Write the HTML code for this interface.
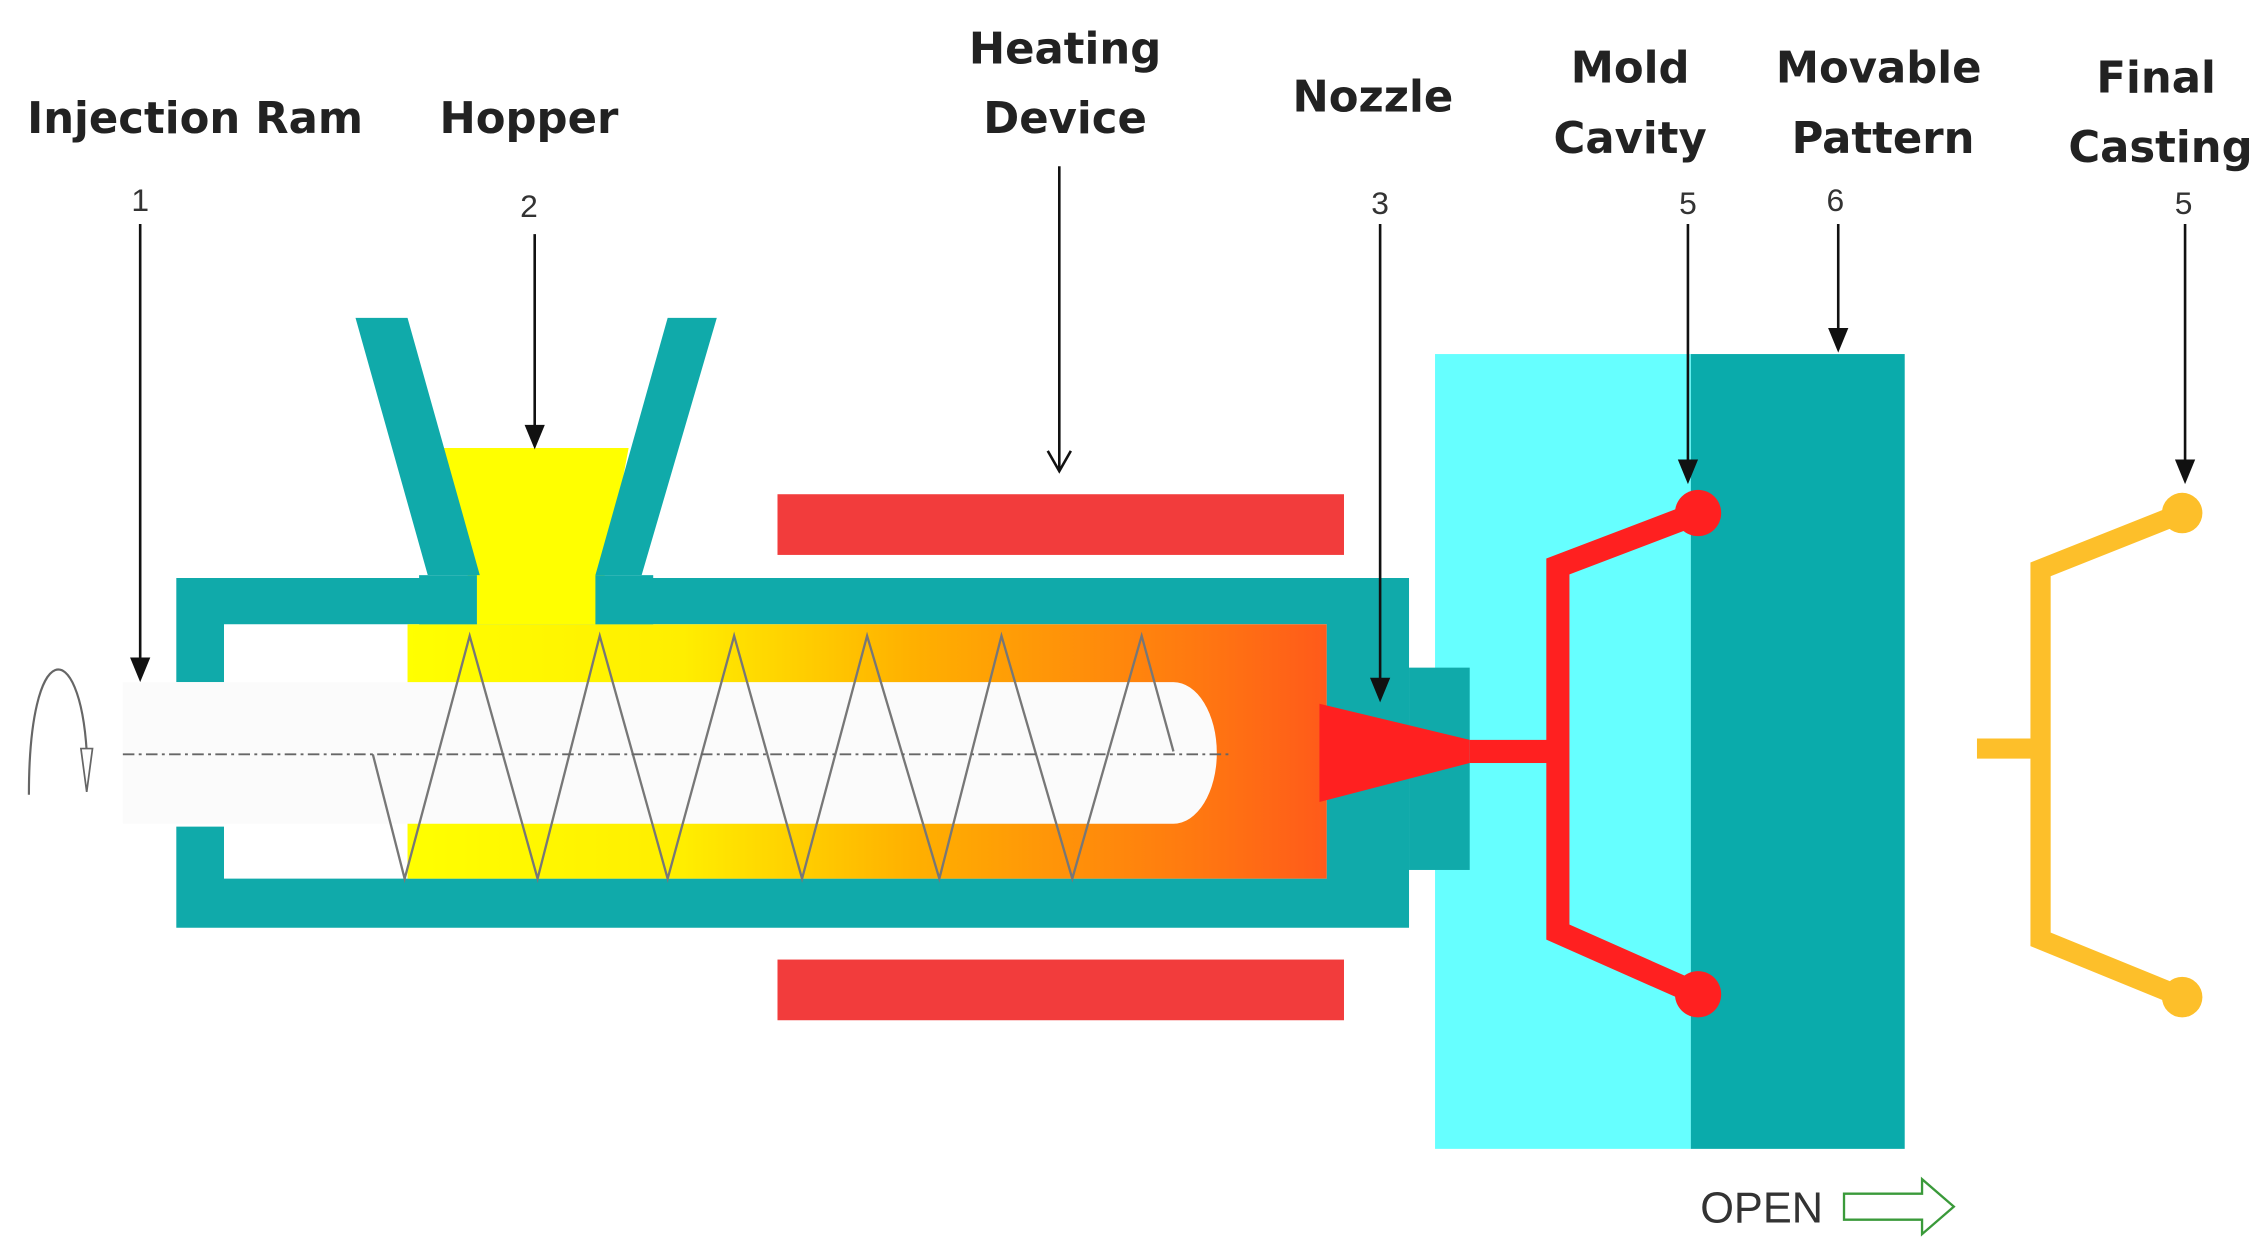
<!DOCTYPE html>
<html><head><meta charset="utf-8"><style>
html,body{margin:0;padding:0;background:#fff;}
svg{display:block;}
.lb{font-family:"DejaVu Sans","Liberation Sans",sans-serif;font-weight:bold;font-size:30px;fill:#222;text-anchor:middle;}
.nm{font-family:"Liberation Sans",sans-serif;font-size:22px;fill:#333;text-anchor:middle;}
</style></head><body>
<svg width="2266" height="1248" viewBox="0 0 1568 863.6" preserveAspectRatio="none" xmlns="http://www.w3.org/2000/svg">
<defs>
<linearGradient id="mat" x1="0" x2="1" y1="0" y2="0">
<stop offset="0" stop-color="#ffff00"/><stop offset="0.3" stop-color="#ffee00"/>
<stop offset="0.55" stop-color="#ffb000"/><stop offset="0.85" stop-color="#ff7a10"/><stop offset="1" stop-color="#ff5a1a"/>
</linearGradient>
</defs>
<!-- labels -->
<text class="lb" x="135" y="92">Injection Ram</text>
<text class="lb" x="366" y="92">Hopper</text>
<text class="lb" x="737" y="44">Heating</text>
<text class="lb" x="737" y="92">Device</text>
<text class="lb" x="950" y="77">Nozzle</text>
<text class="lb" x="1128" y="57">Mold</text>
<text class="lb" x="1128" y="106">Cavity</text>
<text class="lb" x="1300" y="57">Movable</text>
<text class="lb" x="1303" y="106">Pattern</text>
<text class="lb" x="1492" y="64">Final</text>
<text class="lb" x="1495" y="112">Casting</text>
<text class="nm" x="97" y="146">1</text>
<text class="nm" x="366" y="150">2</text>
<text class="nm" x="955" y="148">3</text>
<text class="nm" x="1168" y="148">5</text>
<text class="nm" x="1270" y="146">6</text>
<text class="nm" x="1511" y="148">5</text>
<!-- heaters -->
<rect x="538" y="342" width="392" height="42" fill="#f23c3c"/>
<rect x="538" y="664" width="392" height="42" fill="#f23c3c"/>
<!-- barrel -->
<path d="M122,400 H975 V642 H122 V572 H155 V608 H918 V432 H155 V472 H122 Z" fill="#10aaaa"/>
<!-- material -->
<rect x="282" y="432" width="636" height="176" fill="url(#mat)"/>
<path d="M85,472 H812 A30,49 0 0 1 812,570 H85 Z" fill="#fbfbfb"/>
<!-- hopper -->
<polygon points="307,310 435,310 412,432 330,432" fill="#ffff00"/>
<polygon points="246,220 282,220 332,398 296,398" fill="#10aaaa"/>
<polygon points="462,220 496,220 444,398 412,398" fill="#10aaaa"/>
<rect x="412" y="398" width="40" height="34" fill="#10aaaa"/>
<rect x="290" y="398" width="40" height="34" fill="#10aaaa"/>
<!-- screw -->
<polyline points="258,522 280,608 325,440 372,608 415,440 462,608 508,440 555,608 600,440 650,608 693,440 742,608 790,440 812,520" fill="none" stroke="#777" stroke-width="1.6"/>
<line x1="85" y1="522" x2="850" y2="522" stroke="#666" stroke-width="1.3" stroke-dasharray="8,3,2,3"/>
<!-- rotation arrow -->
<path d="M20,550 C20,440 55,440 60,520" fill="none" stroke="#666" stroke-width="1.5"/>
<polygon points="56,518 64,518 60,548" fill="#fff" stroke="#666" stroke-width="1.2"/>
<!-- mold -->
<rect x="993" y="245" width="177" height="550" fill="#66ffff"/>
<rect x="1170" y="245" width="148" height="550" fill="#0aabab"/>
<!-- nozzle block over mold -->
<rect x="975" y="462" width="42" height="140" fill="#10aaaa"/>
<polygon points="913,487 1017,512 1017,528 913,555" fill="#ff2020"/>
<rect x="1017" y="512" width="58" height="16" fill="#ff2020"/>
<g stroke="#ff2020" stroke-width="16" fill="none" stroke-linejoin="miter">
<polyline points="1175,355 1078,392 1078,645 1175,688"/>
</g>
<circle cx="1175" cy="355" r="16" fill="#ff2020"/>
<circle cx="1175" cy="688" r="16" fill="#ff2020"/>
<!-- final casting -->
<g stroke="#fdbf2a" stroke-width="14" fill="none">
<polyline points="1510,355 1412,394 1412,650 1510,690"/>
<line x1="1368" y1="518" x2="1412" y2="518"/>
</g>
<circle cx="1510" cy="355" r="14" fill="#fdbf2a"/>
<circle cx="1510" cy="690" r="14" fill="#fdbf2a"/>
<!-- arrows -->
<g stroke="#111" stroke-width="1.8">
<line x1="97" y1="155" x2="97" y2="460"/>
<line x1="370" y1="162" x2="370" y2="298"/>
<line x1="955" y1="155" x2="955" y2="472"/>
<line x1="1168" y1="155" x2="1168" y2="322"/>
<line x1="1272" y1="155" x2="1272" y2="230"/>
<line x1="1512" y1="155" x2="1512" y2="322"/>
</g>
<g fill="#111">
<polygon points="90,455 104,455 97,472"/>
<polygon points="363,294 377,294 370,311"/>
<polygon points="948,469 962,469 955,486"/>
<polygon points="1161,318 1175,318 1168,335"/>
<polygon points="1265,227 1279,227 1272,244"/>
<polygon points="1505,318 1519,318 1512,335"/>
</g>
<polyline points="733,115 733,326" stroke="#111" stroke-width="1.8" fill="none"/>
<polyline points="725,312 733,326 741,312" stroke="#111" stroke-width="1.8" fill="none"/>
<!-- open -->
<text x="1219" y="846" font-family="Liberation Sans,sans-serif" font-size="30" fill="#333" text-anchor="middle">OPEN</text>
<polygon points="1276,826 1330,826 1330,816 1352,835 1330,854 1330,844 1276,844" fill="#fff" stroke="#3a9a3a" stroke-width="1.6"/>
</svg>
</body></html>
